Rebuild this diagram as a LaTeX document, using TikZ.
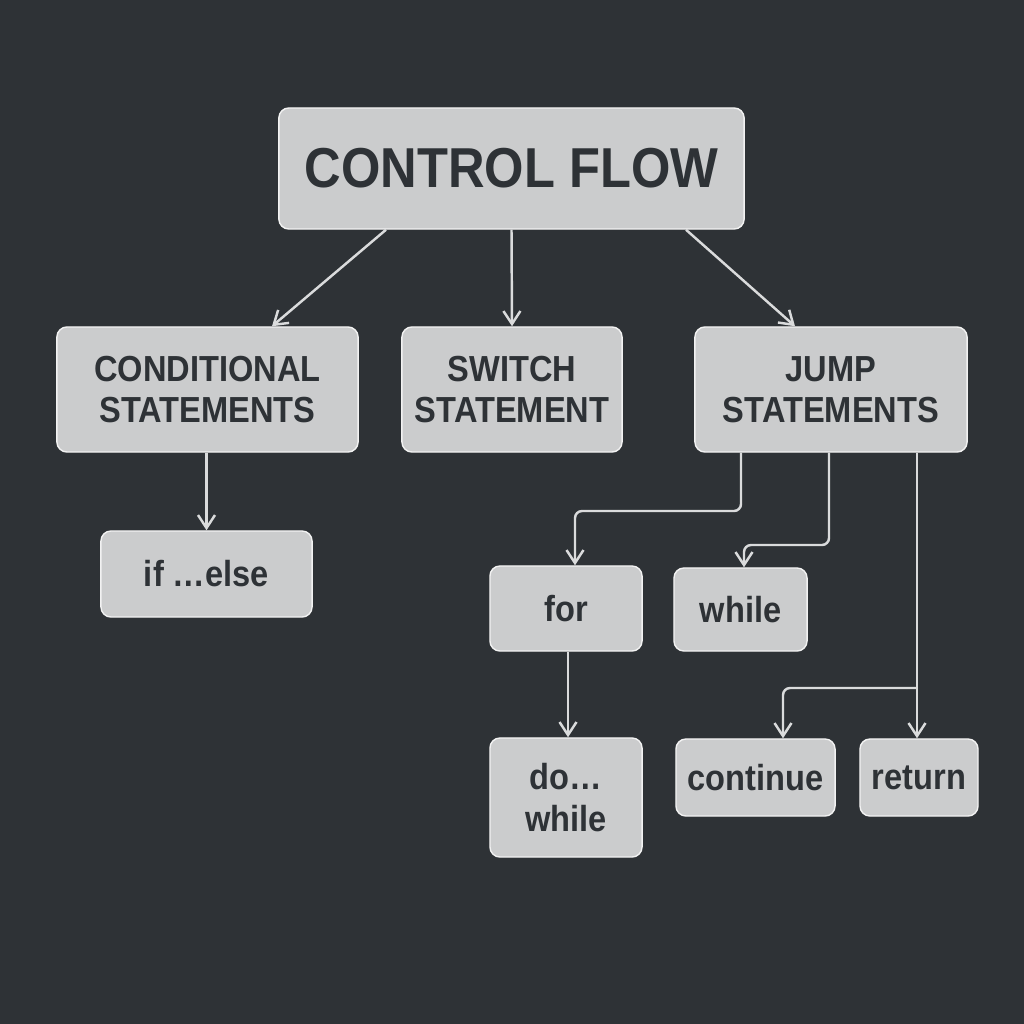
\documentclass[tikz,border=0pt]{standalone}
\usepackage{fontspec}
\newfontfamily\boxfont[FakeStretch=0.9]{Liberation Sans}
\usetikzlibrary{arrows.meta}
\definecolor{bg}{HTML}{2E3236}
\definecolor{boxgray}{HTML}{CBCCCD}
\definecolor{linegray}{HTML}{DADBDC}
\tikzset{
    >={Straight Barb[length=1.3mm,width=1.7mm]},
    box/.style={rectangle,rounded corners=1mm,inner sep=0pt,fill=boxgray,draw=white!75!boxgray,line width=0.4pt,text=bg,align=center,font=\boxfont\bfseries\fontsize{10.3}{11.7}\selectfont},
    title/.append style={font=\boxfont\bfseries\fontsize{16}{19}\selectfont},
    link/.style={->,draw=linegray,line width=0.7pt,rounded corners=0.07cm}
}

\begin{document}
\begin{tikzpicture}[x=0.01cm,y=-0.01cm]
  \fill[bg] (0,0) rectangle (1024,1024);

  \node[box,title,minimum width=4.65cm,minimum height=1.21cm] (cf) at (511.5,168.5) {CONTROL FLOW};

  \node[box,minimum width=3.01cm,minimum height=1.25cm] (cond)   at (207.5,389.5) {CONDITIONAL\\STATEMENTS};
  \node[box,minimum width=2.20cm,minimum height=1.25cm] (switch) at (512,389.5)   {SWITCH\\STATEMENT};
  \node[box,minimum width=2.72cm,minimum height=1.25cm] (jump)   at (831,389.5)   {JUMP\\STATEMENTS};

  \node[box,minimum width=2.11cm,minimum height=0.86cm] (ifelse) at (206.5,574)   {if …else};
  \node[box,minimum width=1.52cm,minimum height=0.85cm] (for)    at (566,608.5)   {for};
  \node[box,minimum width=1.33cm,minimum height=0.83cm] (while)  at (740.5,609.5) {while};
  \node[box,minimum width=1.52cm,minimum height=1.19cm] (dowhile) at (566,797.5)  {do…\\while};
  \node[box,minimum width=1.59cm,minimum height=0.77cm] (cont)   at (755.5,777.5) {continue};
  \node[box,minimum width=1.18cm,minimum height=0.77cm] (ret)    at (919,777.5)   {return};

  % top level
  \draw[link] (cf.south -| 386,0) -- (cond.north -| 272,0);
  \draw[link] (cf.south) -- (switch.north);
  \draw[link] (cf.south -| 686,0) -- (jump.north -| 795,0);
  \draw[link] (cond.south -| ifelse.north) -- (ifelse.north);

  % jump statements
  \draw[link] (jump.south -| 741,0) -- (741,511) -- (575,511) -- (for.north -| 575,0);
  \draw[link] (jump.south -| 829,0) -- (829,545) -- (744,545) -- (while.north -| 744,0);
  \draw[link] (jump.south -| 917,0) -- (ret.north -| 917,0);
  \coordinate (split) at (917,688);
  \draw[link] (split) -- (783,688) -- (cont.north -| 783,0);
  \draw[link] (for.south -| 568,0) -- (dowhile.north -| 568,0);
\end{tikzpicture}
\end{document}
